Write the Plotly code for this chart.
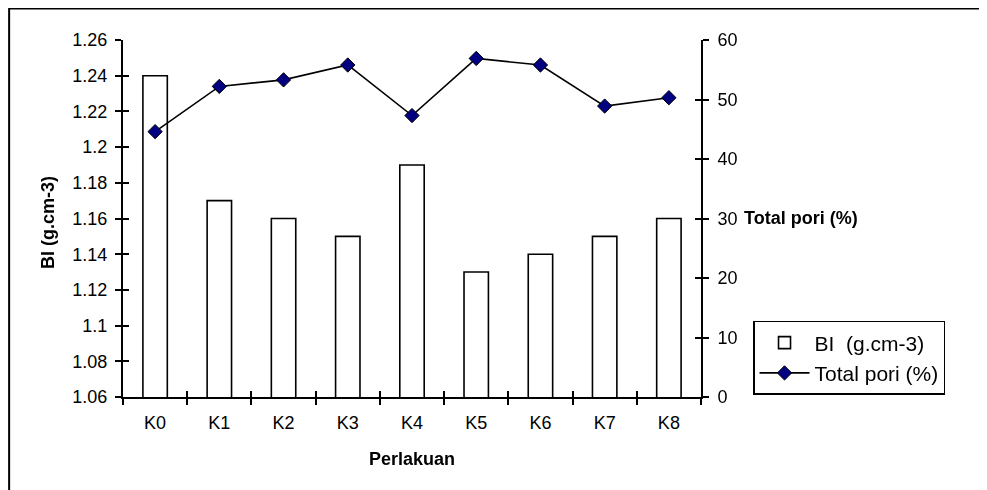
import plotly.graph_objects as go

categories = ["K0", "K1", "K2", "K3", "K4", "K5", "K6", "K7", "K8"]
bi_values = [1.24, 1.17, 1.16, 1.15, 1.19, 1.13, 1.14, 1.15, 1.16]
pori_values = [44.6, 52.2, 53.3, 55.8, 47.3, 56.9, 55.8, 48.9, 50.3]
left_tickvals = [1.06, 1.08, 1.10, 1.12, 1.14, 1.16, 1.18, 1.20, 1.22, 1.24, 1.26]
left_ticktext = ["1.06", "1.08", "1.1", "1.12", "1.14", "1.16", "1.18", "1.2", "1.22", "1.24", "1.26"]
right_tickvals = [0, 10, 20, 30, 40, 50, 60]

FONT = "Liberation Sans, Arial, sans-serif"
TICKF = dict(family=FONT, size=18, color="black")

fig = go.Figure()
fig.add_trace(go.Bar(
    x=categories, y=bi_values, name="BI  (g.cm-3)",
    marker=dict(color="white", line=dict(color="black", width=1.6)),
    width=0.38, yaxis="y", xaxis="x",
))
fig.add_trace(go.Scatter(
    x=categories, y=pori_values, name="Total pori (%)",
    mode="lines+markers",
    line=dict(color="black", width=1.6),
    marker=dict(symbol="diamond", size=11, color="#000080",
                line=dict(color="black", width=1)),
    yaxis="y2", xaxis="x",
))
# helper invisible traces so the overlay axes (inner half of crossing ticks) are drawn
fig.add_trace(go.Scatter(x=categories, y=bi_values, xaxis="x2", yaxis="y3",
                         showlegend=False, hoverinfo="skip", mode="markers",
                         opacity=0))
fig.add_trace(go.Scatter(x=categories, y=pori_values, xaxis="x2", yaxis="y4",
                         showlegend=False, hoverinfo="skip", mode="markers",
                         opacity=0))

common_y = dict(showgrid=False, zeroline=False, ticklen=6, tickwidth=1.5,
                tickcolor="black")
fig.update_layout(
    width=987, height=490,
    margin=dict(l=115, r=294, t=32, b=101, autoexpand=False),
    paper_bgcolor="white", plot_bgcolor="white",
    font=dict(family=FONT, color="black"),
    xaxis=dict(type="category", range=[-0.5, 8.5], tickson="boundaries",
               ticks="outside", ticklen=6, tickwidth=1.5, tickcolor="black",
               showline=True, linecolor="black", linewidth=2,
               showgrid=False, tickfont=TICKF, ticklabelstandoff=8),
    xaxis2=dict(type="category", range=[-0.5, 8.5], tickson="boundaries",
                overlaying="x", ticks="inside", ticklen=6, tickwidth=1.5,
                tickcolor="black", showticklabels=False, showline=False,
                showgrid=False, side="bottom", anchor="y3"),
    yaxis=dict(range=[1.06, 1.26], tickvals=left_tickvals, ticktext=left_ticktext,
               ticks="outside", showline=True, linecolor="black", linewidth=2,
               tickfont=TICKF, ticklabelstandoff=4, **common_y),
    yaxis2=dict(range=[0, 60], tickvals=right_tickvals, overlaying="y", side="right",
                ticks="outside", showline=True, linecolor="black", linewidth=2,
                tickfont=TICKF, ticklabelstandoff=5, **common_y),
    yaxis3=dict(range=[1.06, 1.26], tickvals=left_tickvals, overlaying="y",
                side="left", ticks="inside", showticklabels=False,
                showline=False, anchor="x2", **common_y),
    yaxis4=dict(range=[0, 60], tickvals=right_tickvals, overlaying="y",
                side="right", ticks="inside", showticklabels=False,
                showline=False, anchor="x2", **common_y),
    legend=dict(x=1.09, y=0.213, xanchor="left", yanchor="top",
                bordercolor="black", borderwidth=1.5, bgcolor="white",
                font=dict(family=FONT, size=21, color="black"),
                itemwidth=50, tracegroupgap=0),
    showlegend=True,
)

fig.add_annotation(text="<b>BI (g.cm-3)</b>", xref="paper", yref="paper",
                   x=-0.13, y=0.49, textangle=-90, showarrow=False,
                   xanchor="center", yanchor="middle",
                   font=dict(family=FONT, size=18, color="black"))
fig.add_annotation(text="<b>Perlakuan</b>", xref="paper", yref="paper",
                   x=0.5, y=-0.174, showarrow=False,
                   xanchor="center", yanchor="middle",
                   font=dict(family=FONT, size=18, color="black"))
fig.add_annotation(text="<b>Total pori (%)</b>", xref="paper", yref="paper",
                   x=1.071, y=0.501, showarrow=False,
                   xanchor="left", yanchor="middle",
                   font=dict(family=FONT, size=18, color="black"))

fig.add_shape(type="rect", xref="paper", yref="paper",
              x0=-0.197, x1=1.7, y0=-0.4, y1=1.088,
              line=dict(color="black", width=2), fillcolor="rgba(0,0,0,0)",
              layer="below")

fig.write_html("out.html")
